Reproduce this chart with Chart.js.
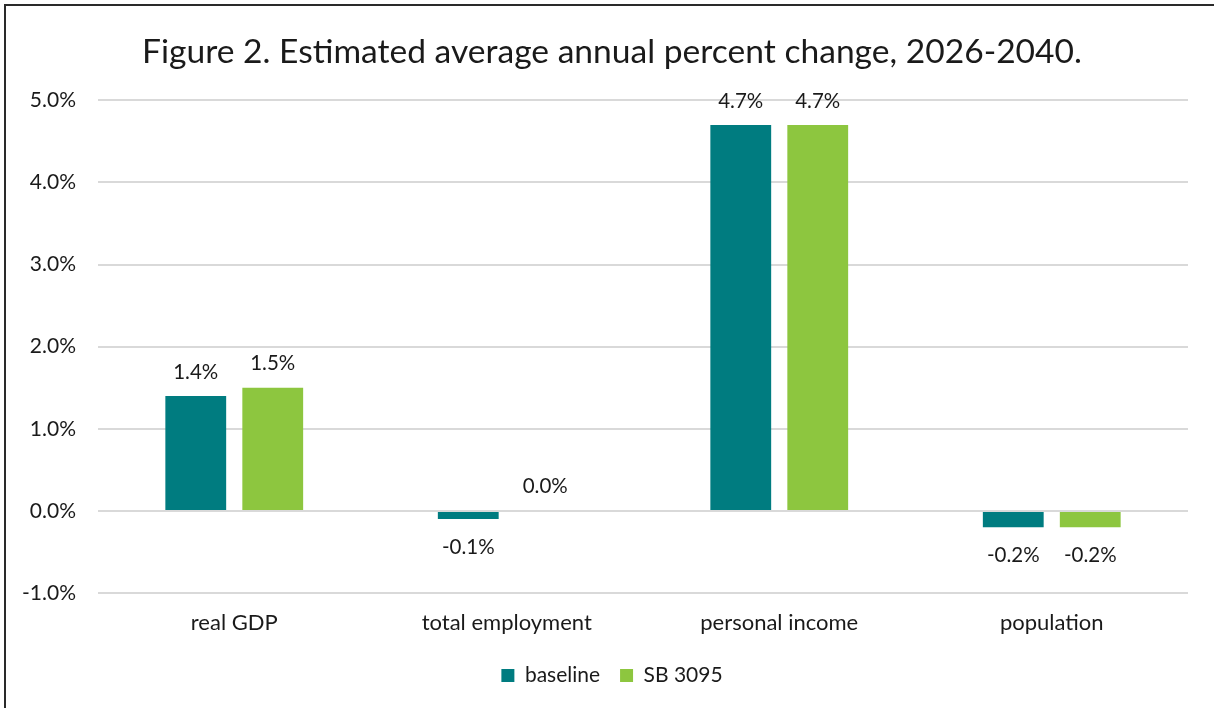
<!DOCTYPE html>
<html>
<head>
<meta charset="utf-8">
<script src="https://cdn.jsdelivr.net/npm/chart.js@4.4.1/dist/chart.umd.min.js"></script>
<style>
    html, body { margin: 0; padding: 0; background: #fff; overflow: hidden; }
    #frame {
        position: absolute; left: 4px; top: 4px;
        width: 1300px; height: 800px;
        border: 2px solid #2a2a2a;
    }
    #wrap { position: absolute; left: 0; top: 0; width: 1214px; height: 708px; }
</style>
</head>
<body>
<div id="frame"></div>
<div id="wrap"><canvas id="chart"></canvas></div>
<script>
// Data
const categories = ['real GDP', 'total employment', 'personal income', 'population'];
const seriesNames = ['baseline', 'SB 3095'];
const baselineValues = [1.4, -0.1, 4.7, -0.2];
const sb3095Values = [1.5, 0.0, 4.7, -0.2];
const yTicks = [-1, 0, 1, 2, 3, 4, 5];

const FONT = 'Lato, "Open Sans", sans-serif';
const TEXT = '#1a1a1a';

/**
 * Draw value labels above positive bars and below negative ones
 */
const valueLabels = {
    id: 'valueLabels',
    afterDatasetsDraw(chart) {
        const ctx = chart.ctx;
        const yScale = chart.scales.y;
        ctx.save();
        ctx.font = '20.5px ' + FONT;
        ctx.fillStyle = TEXT;
        ctx.textAlign = 'center';
        ctx.textBaseline = 'middle';
        chart.data.datasets.forEach((ds, i) => {
            chart.getDatasetMeta(i).data.forEach((bar, j) => {
                const v = ds.data[j];
                const zero = yScale.getPixelForValue(0);
                const y = v < 0 ? bar.y + 28 : Math.min(bar.y, zero) - 24;
                ctx.fillText(v.toFixed(1) + '%', bar.x, y);
            });
        });
        ctx.restore();
    }
};

new Chart(document.getElementById('chart'), {
    type: 'bar',
    data: {
        labels: categories,
        datasets: [{
            label: seriesNames[0],
            data: baselineValues,
            backgroundColor: '#007C80'
        }, {
            label: seriesNames[1],
            data: sb3095Values,
            backgroundColor: '#8DC63F'
        }]
    },
    options: {
        responsive: true,
        maintainAspectRatio: false,
        animation: false,
        categoryPercentage: 0.565,
        barPercentage: 0.79,
        layout: { padding: { left: 10, right: 0, top: 0, bottom: 12 } },
        plugins: {
            title: {
                display: true,
                text: 'Figure 2. Estimated average annual percent change, 2026-2040.',
                color: TEXT,
                font: { family: FONT, size: 33.6, weight: 'normal', lineHeight: 1.2 },
                padding: { top: 32, bottom: 28 }
            },
            legend: {
                position: 'bottom',
                labels: {
                    color: TEXT,
                    font: { family: FONT, size: 21 },
                    boxWidth: 13,
                    boxHeight: 13,
                    padding: 20
                }
            },
            tooltip: { enabled: false }
        },
        scales: {
            x: {
                grid: { display: false, drawTicks: false },
                border: { display: false },
                ticks: {
                    color: TEXT,
                    font: { family: FONT, size: 22 },
                    padding: 17
                },
                afterFit(scale) { scale.width = scale.width; scale.height = 52; }
            },
            y: {
                min: -1,
                max: 5,
                afterBuildTicks(scale) {
                    scale.ticks = yTicks.map(v => ({ value: v }));
                },
                grid: { color: '#d9d9d9', lineWidth: 2, drawTicks: false },
                border: { display: false },
                ticks: {
                    color: TEXT,
                    font: { family: FONT, size: 21 },
                    padding: 22,
                    callback: v => v.toFixed(1) + '%'
                },
                afterFit(scale) { scale.width = 88; }
            },
            // empty right-hand axis, only reserves the right margin
            yRight: {
                position: 'right',
                grid: { display: false, drawTicks: false },
                border: { display: false },
                ticks: { display: false },
                afterFit(scale) { scale.width = 26; }
            }
        }
    },
    plugins: [valueLabels]
});
</script>
</body>
</html>
